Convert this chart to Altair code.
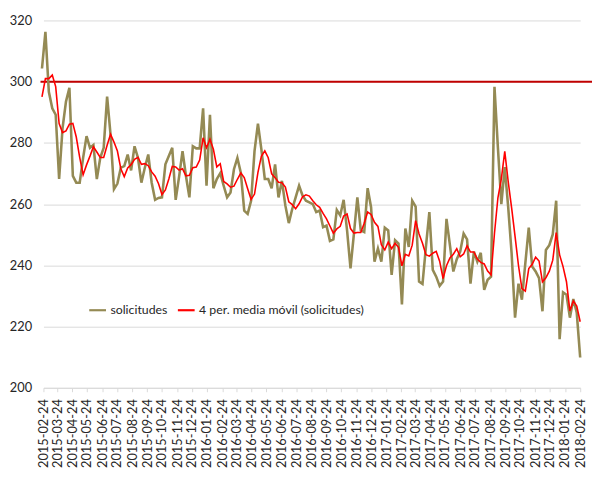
import altair as alt
import pandas as pd

# Values (weekly)
solicitudes = [
    304.3, 316.3, 296.7, 291.3, 289.2, 268.2, 284.8, 293.5, 298.0, 269.2,
    267.0, 267.0, 275.1, 282.2, 278.4, 279.3, 268.2, 275.1, 278.4, 295.1,
    282.7, 264.9, 266.7, 271.9, 272.4, 276.2, 271.0, 278.9, 275.1, 267.0,
    271.9, 276.2, 267.0, 261.4, 262.0, 262.2, 273.0, 275.7, 278.4, 261.4,
    269.0, 277.3, 269.2, 262.2, 278.9, 278.2, 278.2, 291.3, 266.0, 289.2,
    265.2, 268.2, 270.1, 266.0, 262.2, 263.8, 271.4, 275.1, 270.3, 257.9,
    256.8, 261.1, 277.3, 286.3, 277.9, 268.2, 268.2, 265.2, 273.0, 262.2,
    267.6, 259.5, 253.8, 258.4, 262.2, 266.0, 262.8, 261.1, 260.6, 260.0,
    257.4, 257.9, 252.5, 253.0, 248.0, 248.5, 258.1, 256.3, 261.4, 251.4,
    239.0, 250.4, 262.2, 251.4, 250.9, 265.2, 259.0, 241.2, 245.5, 241.2,
    252.3, 251.4, 236.9, 248.2, 247.1, 227.2, 252.0, 246.0, 261.1, 259.2,
    234.7, 233.9, 246.0, 257.4, 238.5, 236.3, 233.3, 234.7, 255.2, 246.6,
    238.0, 242.0, 244.5, 250.4, 248.5, 234.0, 244.5, 241.2, 244.1, 232.0,
    235.3, 236.3, 298.3, 278.4, 260.0, 272.1, 259.0, 243.9, 222.9, 234.0,
    228.8, 240.7, 252.3, 239.6, 238.0, 235.8, 225.0, 245.0, 246.6, 250.1,
    261.1, 215.9, 231.2, 230.4, 222.9, 229.0, 224.5, 209.9,
]
# first three moving-average points (earlier data not shown)
media_movil_inicio = [295.0, 301.0, 301.0]

serie_1 = "solicitudes"
serie_2 = "4 per. media móvil (solicitudes)"
linea_ref = 300

fechas = pd.date_range(end="2018-02-24", periods=len(solicitudes), freq="7D")
media = pd.Series(solicitudes).rolling(4).mean()
media.iloc[:3] = media_movil_inicio

etiquetas_x = pd.date_range("2015-02-24", periods=37, freq=pd.DateOffset(months=1))

fechas_txt = [d.strftime("%Y-%m-%dT00:00:00") for d in fechas]
df = pd.concat([
    pd.DataFrame({"fecha": fechas_txt, "valor": solicitudes, "serie": serie_1}),
    pd.DataFrame({"fecha": fechas_txt, "valor": media.round(2).tolist(), "serie": serie_2}),
], ignore_index=True)

W, H = 545, 373
FONT = "Lato"

x_enc = alt.X(
    "fecha:T",
    scale=alt.Scale(domain=[alt.DateTime(year=2015, month=2, date=24),
                            alt.DateTime(year=2018, month=2, date=24)]),
    axis=alt.Axis(
        values=[alt.DateTime(year=d.year, month=d.month, date=d.day) for d in etiquetas_x],
        format="%Y-%m-%d", labelAngle=270, title=None, grid=False,
        labelFont=FONT, labelFontSize=13, labelColor="#262626",
        domainColor="#D9D9D9", tickColor="#D9D9D9", tickSize=4, labelPadding=7,
        labelOverlap=False, labelFlush=False,
    ),
)
y_enc = alt.Y(
    "valor:Q",
    scale=alt.Scale(domain=[200, 320], nice=False, zero=False),
    axis=alt.Axis(
        values=[200, 220, 240, 260, 280, 300, 320], title=None,
        domain=False, ticks=False, tickSize=0, labelPadding=12,
        labelFont=FONT, labelFontSize=13, labelColor="#262626",
        gridColor="#D9D9D9", gridWidth=1,
    ),
)
color_enc = alt.Color(
    "serie:N",
    scale=alt.Scale(domain=[serie_1, serie_2], range=["#948A54", "#FF0000"]),
    legend=alt.Legend(
        title=None, orient="none", legendX=45, legendY=284, direction="horizontal",
        symbolType="stroke", symbolSize=290, symbolStrokeWidth=2.2,
        labelFont=FONT, labelFontSize=12.5, labelColor="#262626",
        labelLimit=400, columnPadding=6, labelOffset=3,
    ),
)

base = alt.Chart(df)
l1 = base.transform_filter(alt.datum.serie == serie_1).mark_line(strokeWidth=2.6).encode(
    x=x_enc, y=y_enc, color=color_enc)
l2 = base.transform_filter(alt.datum.serie == serie_2).mark_line(strokeWidth=1.6).encode(
    x=x_enc, y=y_enc, color=color_enc)
regla = alt.Chart(pd.DataFrame({"v": [linea_ref]})).mark_rule(
    color="#C00000", strokeWidth=2).encode(
    y=alt.Y("v:Q"), x=alt.value(-3), x2=alt.value(W + 12))

chart = alt.layer(regla, l1, l2).properties(
    width=W, height=H,
    autosize=alt.AutoSizeParams(type="none"),
    padding={"left": 36, "top": 9, "right": 12, "bottom": 90},
).configure_view(stroke=None)

chart.save("out.html", embed_options={"renderer": "svg", "actions": False})
